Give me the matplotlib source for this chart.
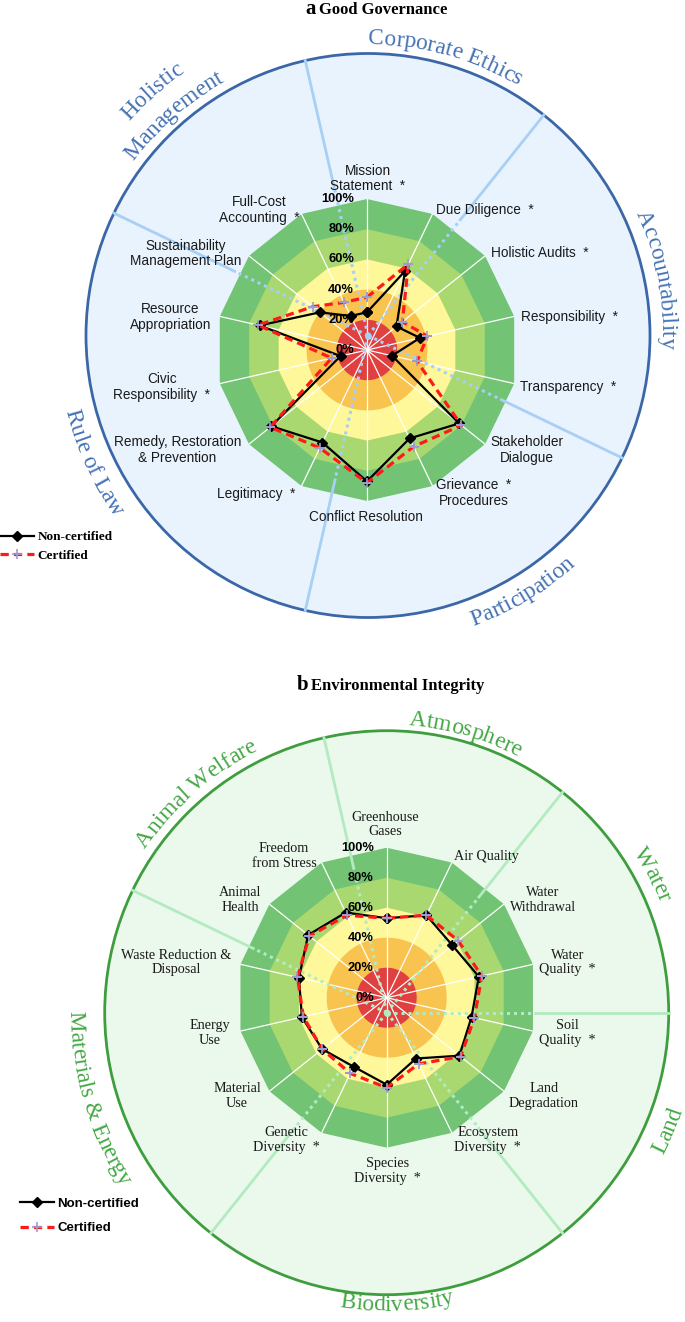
import numpy as np
import matplotlib
matplotlib.use("Agg")
import matplotlib.pyplot as plt
from matplotlib.patches import Circle
from matplotlib.font_manager import FontProperties
from matplotlib.textpath import TextToPath

W, H, DPI = 685, 1322, 100

# ---- panel a: Good Governance ----
gov_labels = ["Mission\nStatement  *", "Due Diligence  *", "Holistic Audits  *", "Responsibility  *",
              "Transparency  *", "Stakeholder\nDialogue", "Grievance  *\nProcedures", "Conflict Resolution",
              "Legitimacy  *", "Remedy, Restoration\n& Prevention", "Civic\nResponsibility  *",
              "Resource\nAppropriation", "Sustainability\nManagement Plan", "Full-Cost\nAccounting  *"]
gov_noncert = [0.25, 0.58, 0.25, 0.36, 0.17, 0.78, 0.65, 0.87, 0.68, 0.81, 0.18, 0.73, 0.40, 0.25]
gov_cert = [0.35, 0.63, 0.30, 0.41, 0.34, 0.80, 0.71, 0.88, 0.72, 0.82, 0.24, 0.74, 0.46, 0.35]
gov_groups = ["Corporate Ethics", "Accountability", "Participation", "Rule of Law", "Holistic\nManagement"]
gov_group_sizes = [2, 3, 3, 4, 2]

# ---- panel b: Environmental Integrity ----
env_labels = ["Greenhouse\nGases", "Air Quality", "Water\nWithdrawal", "Water\nQuality  *", "Soil\nQuality  *",
              "Land\nDegradation", "Ecosystem\nDiversity  *", "Species\nDiversity  *", "Genetic\nDiversity  *",
              "Material\nUse", "Energy\nUse", "Waste Reduction &\nDisposal", "Animal\nHealth", "Freedom\nfrom Stress"]
env_noncert = [0.53, 0.61, 0.56, 0.63, 0.58, 0.62, 0.45, 0.58, 0.51, 0.55, 0.58, 0.60, 0.67, 0.63]
env_cert = [0.53, 0.61, 0.61, 0.65, 0.60, 0.63, 0.49, 0.60, 0.56, 0.55, 0.57, 0.61, 0.66, 0.61]
env_groups = ["Atmosphere", "Water", "Land", "Biodiversity", "Materials & Energy", "Animal Welfare"]
env_group_sizes = [2, 2, 2, 3, 3, 2]

pct_ticks = [0, 0.2, 0.4, 0.6, 0.8, 1.0]
pct_labels = ["0%", "20%", "40%", "60%", "80%", "100%"]

# layout (pixels)
gov_label_xy = [(367.5, 178.5), (485, 209.7), (539.5, 253), (569.5, 316.5), (568.5, 387), (527, 450),
                (474, 493), (365.7, 517), (256, 493.7), (177.5, 450), (161.7, 387), (170.5, 317),
                (185.6, 253.6), (259, 210)]
env_label_xy = [(385, 824.6), (486.8, 856.3), (542.6, 899.8), (567.7, 962.5), (567.7, 1032.8),
                (543.7, 1096), (487.8, 1139.8), (387.3, 1171.2), (286.8, 1139.8), (237, 1096),
                (210, 1032.8), (176, 962.5), (240, 899.8), (284, 855.8)]
# sector label: angle, baseline radius, outward-reading
gov_group_pos = [(15.5, 291, True), (79, 294, True), (149, 309, False), (245.2, 312, False), (318.5, 321, True)]
env_group_pos = [(15.75, 288, True), (62.4, 294, True), (112.8, 311, False), (178, 298, False),
                 (253.5, 317, False), (319, 292, True)]

band_colors = ["#72C374", "#A9D871", "#FFF89A", "#F9C34F", "#E0403F"]

fig = plt.figure(figsize=(W / DPI, H / DPI), dpi=DPI)


def pixel_axes():
    a = fig.add_axes([0, 0, 1, 1])
    a.set_xlim(0, W)
    a.set_ylim(H, 0)
    a.axis("off")
    a.patch.set_alpha(0)
    return a


def polar_axes(cx, cy, R):
    a = fig.add_axes([(cx - R) / W, 1 - (cy + R) / H, 2 * R / W, 2 * R / H], projection="polar")
    a.set_theta_zero_location("N")
    a.set_theta_direction(-1)
    a.set_ylim(0, 1)
    a.axis("off")
    a.patch.set_alpha(0)
    return a


ttp = TextToPath()


def advance(c, fp):
    w1 = ttp.get_text_width_height_descent("l" + c + "l", fp, ismath=False)[0]
    w0 = ttp.get_text_width_height_descent("ll", fp, ismath=False)[0]
    return (w1 - w0) * DPI / 72.0


def arc_text(ax, s, cx, cy, r, ang, outward, color, fs=16.8):
    fp = FontProperties(family="Liberation Serif", size=fs)
    advs = np.array([advance(c, fp) for c in s])
    pos = np.cumsum(advs) - advs / 2 - advs.sum() / 2
    for c, p in zip(s, pos):
        if outward:
            a = np.radians(ang) + p / r
            rot = -np.degrees(a)
        else:
            a = np.radians(ang) - p / r
            rot = 180 - np.degrees(a)
        ax.text(cx + r * np.sin(a), cy - r * np.cos(a), c, rotation=rot, rotation_mode="anchor",
                ha="center", va="baseline", fontproperties=fp, color=color)


bg = pixel_axes()

panels = [
    dict(cx=367, cy=350, R=151, ox=368, oy=335.5, labels=gov_labels, nc=gov_noncert, ce=gov_cert,
         groups=gov_groups, sizes=gov_group_sizes, label_xy=gov_label_xy, group_pos=gov_group_pos,
         fill="#E9F3FD", edge="#3B67A8", txt="#4472B4", sline="#A8CFF5",
         lab_font="Liberation Sans", lab_fs=9.8, leg_font="Liberation Serif",
         leg_xy=(0, 531), leg_space=0.5, title=("a", "Good Governance"), title_xy=(316, 14)),
    dict(cx=386.7, cy=997.7, R=150, ox=386.7, oy=1012.7, labels=env_labels, nc=env_noncert, ce=env_cert,
         groups=env_groups, sizes=env_group_sizes, label_xy=env_label_xy, group_pos=env_group_pos,
         fill="#EBF8EC", edge="#3E9E3E", txt="#45A845", sline="#B3EBC1",
         lab_font="Liberation Serif", lab_fs=10.2, leg_font="Liberation Sans",
         leg_xy=(20, 1197.5), leg_space=0.94, title=("b", "Environmental Integrity"), title_xy=(308, 690)),
]

# background circles
for p in panels:
    bg.add_patch(Circle((p["ox"], p["oy"]), 282, facecolor=p["fill"], edgecolor=p["edge"], lw=2.0))

# radar bands
for p in panels:
    ax = polar_axes(p["cx"], p["cy"], p["R"])
    n = len(p["labels"])
    theta = np.linspace(0, 2 * np.pi, n, endpoint=False)
    closed = np.append(theta, theta[0])
    for level, col in zip([1.0, 0.8, 0.6], band_colors[:3]):
        ax.fill(closed, np.full(n + 1, level), color=col, lw=0)
    tt = np.linspace(0, 2 * np.pi, 240)
    ax.fill(tt, np.full_like(tt, 0.4), color=band_colors[3], lw=0)
    ax.fill(tt, np.full_like(tt, 0.2), color=band_colors[4], lw=0)
    for t in theta:
        ax.plot([t, t], [0, 1], color="white", lw=0.9)
    p["theta"] = theta

ov = pixel_axes()
for p in panels:
    n = len(p["labels"])
    step = 360.0 / n
    starts = np.concatenate([[0], np.cumsum(p["sizes"])[:-1]])
    for s0 in starts:
        a = np.radians((s0 - 0.5) * step)
        dx, dy = np.sin(a), -np.cos(a)
        rd = 148
        ov.plot([p["ox"], p["ox"] + rd * dx], [p["oy"], p["oy"] + rd * dy], color=p["sline"],
                lw=2.2, ls=(0, (1, 1.3)))
        ov.plot([p["ox"] + rd * dx, p["ox"] + 282 * dx], [p["oy"] + rd * dy, p["oy"] + 282 * dy],
                color=p["sline"], lw=2.0)
    ov.plot(p["ox"], p["oy"], "o", color=p["sline"], ms=5, mew=0)

    # group names around the circle
    for name, (ang, r, outward) in zip(p["groups"], p["group_pos"]):
        for i, line in enumerate(name.split("\n")):
            arc_text(ov, line, p["ox"], p["oy"], r - 29 * i, ang, outward, p["txt"])

    # category labels
    for lab, (x, y) in zip(p["labels"], p["label_xy"]):
        ov.text(x, y, lab, ha="center", va="center", multialignment="center", linespacing=1.15,
                family=p["lab_font"], fontsize=p["lab_fs"], color="#1a1a1a")

    # percent ticks
    for v, s in zip(pct_ticks, pct_labels):
        ov.text(p["cx"] - 13, p["cy"] - v * p["R"], s, ha="right", va="center",
                family="Liberation Sans", fontweight="bold", fontsize=9.3, color="black")

    # title
    tx, ty = p["title_xy"]
    ov.text(tx, ty, p["title"][0], ha="right", va="baseline", family="Liberation Serif",
            fontweight="bold", fontsize=15)
    ov.text(tx + 3, ty, p["title"][1], ha="left", va="baseline", family="Liberation Serif",
            fontweight="bold", fontsize=12)

# data lines
for p in panels:
    ax = polar_axes(p["cx"], p["cy"], p["R"])
    th = np.append(p["theta"], p["theta"][0])
    nc = np.append(p["nc"], p["nc"][0])
    ce = np.append(p["ce"], p["ce"][0])
    ax.plot(th, nc, color="black", lw=1.6, marker="D", ms=5, label="Non-certified")
    ax.plot(th, ce, color="#FF1A1A", lw=2.3, ls=(0, (2.6, 1.6)), marker="+", ms=7, mew=1.2,
            mec="#9C9CD0", label="Certified")
    ax.legend(loc="upper left", bbox_to_anchor=p["leg_xy"], bbox_transform=ov.transData, frameon=False,
              prop=FontProperties(family=p["leg_font"], weight="bold", size=9.5), handlelength=2.6,
              handletextpad=0.25, labelspacing=p["leg_space"], borderpad=0, borderaxespad=0, numpoints=1)

fig.savefig("out.png", dpi=DPI)
